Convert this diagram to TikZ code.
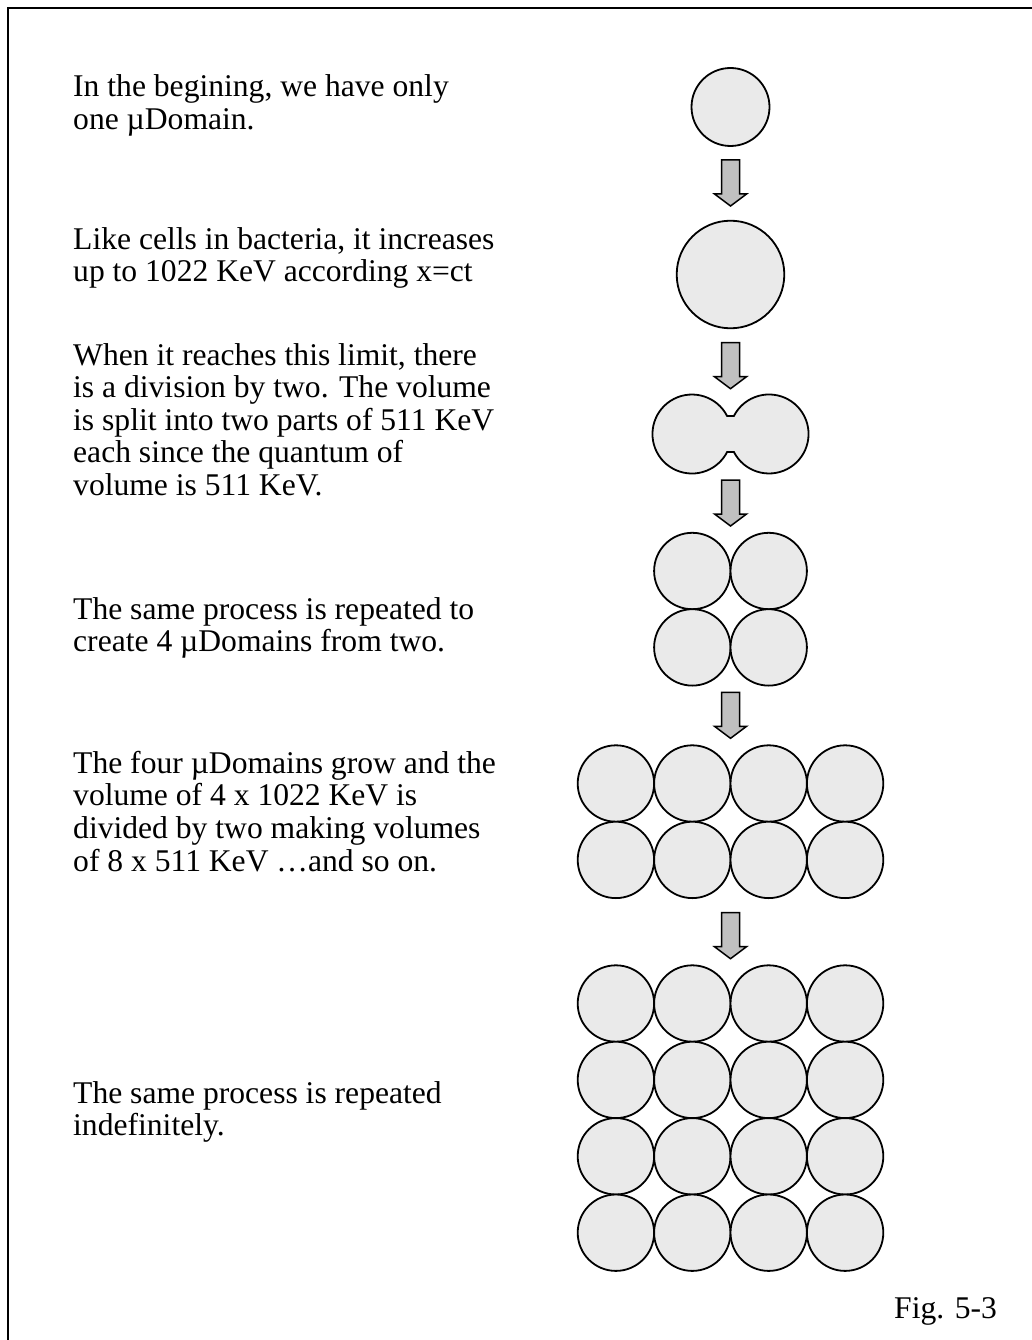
\documentclass[tikz,border=0pt]{standalone}
\usepackage{fontspec}
\setmainfont{Liberation Serif}
\definecolor{cellgray}{HTML}{EAEAEA}
\definecolor{arrowgray}{HTML}{C0C0C0}
\newcommand{\blockarr}[3]{%
  \coordinate (#1) at (#2,#3);
  \draw[blockarrow,shift={(#1)}] (-9,0) -- (9,0) -- (9,34) -- (16,34) -- (0,46) -- (-16,34) -- (-9,34) -- cycle;
}
\begin{document}
\begin{tikzpicture}[x=1pt,y=-1pt,
  cell/.style={circle,draw=black,fill=cellgray,line width=1.8pt,inner sep=0pt,outer sep=0pt},
  blockarrow/.style={draw=black,fill=arrowgray,line width=1.5pt,line join=miter},
  txt/.style={anchor=base west,inner sep=0pt,font=\fontsize{31.6}{33}\selectfont}]
\useasboundingbox (0,0) rectangle (1032,1340);
\clip (0,0) rectangle (1032,1340);
\draw[line width=2.2pt] (8.3,8.3) rectangle (1045,1355);

% stage 1 and 2
\node[cell,minimum size=78] (c1) at (730.5,107) {};
\node[cell,minimum size=107.6] (c2) at (730.5,274.5) {};

% stage 3: dividing cell
\coordinate (pinch) at (730.5,434);
\draw[draw=black,fill=cellgray,line width=1.8pt]
  (727.1,416) arc[start angle=-27.15,end angle=-332.85,radius=39.5]
  -- (733.9,452) arc[start angle=152.85,end angle=-152.85,radius=39.5] -- cycle;

% stage 4: four cells
\foreach \i/\x in {1/692.3,2/768.7}
  \foreach \j/\y in {1/571,2/647.4}
    \node[cell,minimum size=76.4] (d-\j-\i) at (\x,\y) {};

% stage 5: eight cells
\foreach \i/\x in {1/615.9,2/692.3,3/768.7,4/845.1}
  \foreach \j/\y in {1/783.5,2/859.9}
    \node[cell,minimum size=76.4] (e-\j-\i) at (\x,\y) {};

% stage 6: sixteen cells
\foreach \i/\x in {1/615.9,2/692.3,3/768.7,4/845.1}
  \foreach \j/\y in {1/1003.5,2/1079.9,3/1156.3,4/1232.7}
    \node[cell,minimum size=76.4] (f-\j-\i) at (\x,\y) {};

% arrows
\blockarr{a1}{730.5}{160}
\blockarr{a2}{730.5}{342.7}
\blockarr{a3}{730.5}{480}
\blockarr{a4}{730.5}{692.3}
\blockarr{a5}{730.5}{912.7}

% texts
\node[txt] (t1a) at (73,96.7) {In the begining, we have only};
\node[txt] (t1b) at (73,129.3) {one µDomain.};
\node[txt] (t2a) at (73,249.3) {Like cells in bacteria, it increases};
\node[txt] (t2b) at (73,281.9) {up to 1022 KeV according x=ct};
\node[txt] (t3a) at (73,365) {When it reaches this limit, there};
\node[txt] (t3b) at (73,397.6) {is a division by two. The volume};
\node[txt] (t3c) at (73,430.2) {is split into two parts of 511 KeV};
\node[txt] (t3d) at (73,462.8) {each since the quantum of};
\node[txt] (t3e) at (73,495.4) {volume is 511 KeV.};
\node[txt] (t4a) at (73,619) {The same process is repeated to};
\node[txt] (t4b) at (73,651.6) {create 4 µDomains from two.};
\node[txt] (t5a) at (73,773.3) {The four µDomains grow and the};
\node[txt] (t5b) at (73,805.9) {volume of 4 x 1022 KeV is};
\node[txt] (t5c) at (73,838.5) {divided by two making volumes};
\node[txt] (t5d) at (73,871.1) {of 8 x 511 KeV …and so on.};
\node[txt] (t6a) at (73,1103) {The same process is repeated};
\node[txt] (t6b) at (73,1135.6) {indefinitely.};
\node[txt] (fig) at (894,1318) {Fig. 5-3};
\end{tikzpicture}
\end{document}
